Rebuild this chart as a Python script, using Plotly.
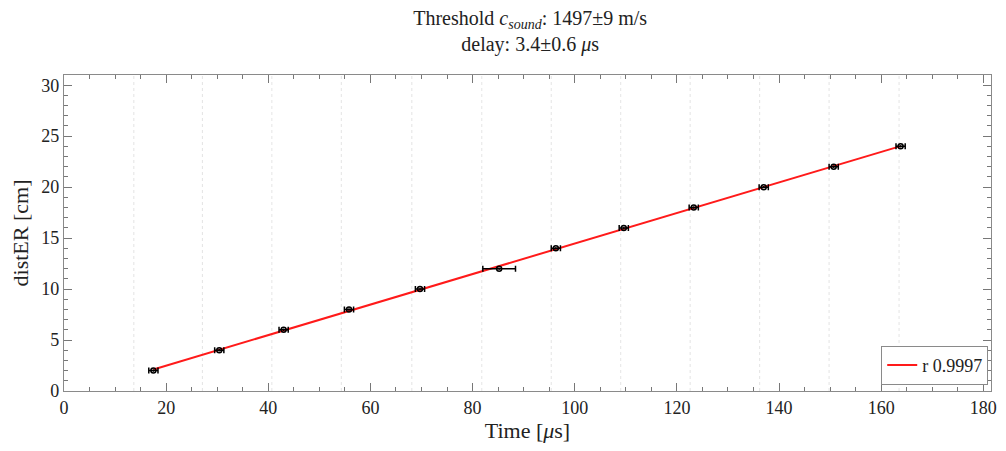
import numpy as np
import plotly.graph_objects as go

# Data
dist_cm = [2, 4, 6, 8, 10, 12, 14, 16, 18, 20, 22, 24]
time_us = [17.5, 30.4, 43.0, 55.8, 69.7, 85.2, 96.3, 109.6, 123.3, 137.0, 150.7, 163.8]
time_err = [0.9, 0.9, 0.9, 0.9, 0.9, 3.2, 0.9, 0.9, 0.9, 0.9, 0.9, 0.9]
ref_lines_us = [13.67, 27.1, 40.7, 54.3, 68.1, 81.8, 95.4, 109.0, 122.6, 136.2, 149.8, 163.5]
fit_label = "r 0.9997"
title_text = "Threshold <i>c</i><sub><i>sound</i></sub>: 1497±9 m/s<br>delay: 3.4±0.6 <i>μ</i>s"

FONT = "Liberation Serif"

# linear fit through the data
p = np.polyfit(time_us, dist_cm, 1)
fit_x = np.array([min(time_us), max(time_us)])
fit_y = np.polyval(p, fit_x)

fig = go.Figure()

for xv in ref_lines_us:
    fig.add_vline(x=xv, line=dict(color="rgba(205,205,205,0.55)", width=1, dash="dot"), layer="below")

fig.add_trace(go.Scatter(
    x=fit_x, y=fit_y, mode="lines",
    line=dict(color="#ff1a1a", width=2),
    name=fit_label, showlegend=True,
))

fig.add_trace(go.Scatter(
    x=time_us, y=dist_cm, mode="markers",
    marker=dict(symbol="circle-open", size=5, color="black", line=dict(width=1.5, color="black")),
    error_x=dict(type="data", array=time_err, color="black", thickness=1.5, width=3),
    error_y=dict(type="constant", value=0.12, color="black", thickness=1.2, width=0),
    showlegend=False,
))

axis_common = dict(
    showline=True, linecolor="#8a8a8a", linewidth=1.2, mirror="ticks",
    ticks="inside", ticklen=8, tickwidth=1.2, tickcolor="#777777",
    showgrid=False, zeroline=False,
    tickfont=dict(family=FONT, size=18, color="#222222"),
)

fig.update_xaxes(
    range=[0, 181.5], tick0=0, dtick=20,
    minor=dict(ticks="inside", ticklen=4, tickwidth=1, tickcolor="#777777", dtick=5, showgrid=False),
    title=dict(text="Time [<i>μ</i>s]", font=dict(family=FONT, size=22, color="#222222"), standoff=4),
    **axis_common,
)
fig.update_yaxes(
    range=[0, 31], tick0=0, dtick=5,
    minor=dict(ticks="inside", ticklen=4, tickwidth=1, tickcolor="#777777", dtick=1, showgrid=False),
    title=dict(text="distER [cm]", font=dict(family=FONT, size=22, color="#222222"), standoff=6),
    **axis_common,
)

fig.update_layout(
    width=1006, height=451,
    margin=dict(l=64, r=9, t=75, b=60),
    paper_bgcolor="white", plot_bgcolor="white",
    title=dict(text=title_text, x=0.527, xanchor="center", yref="container", y=0.945, yanchor="middle",
               font=dict(family=FONT, size=20, color="#222222")),
    legend=dict(x=0.997, y=0.02, xanchor="right", yanchor="bottom",
                bgcolor="white", bordercolor="#8a8a8a", borderwidth=1,
                font=dict(family=FONT, size=18, color="#222222"),
                itemwidth=30, tracegroupgap=0),
    showlegend=True,
)

fig.write_html("out.html")
